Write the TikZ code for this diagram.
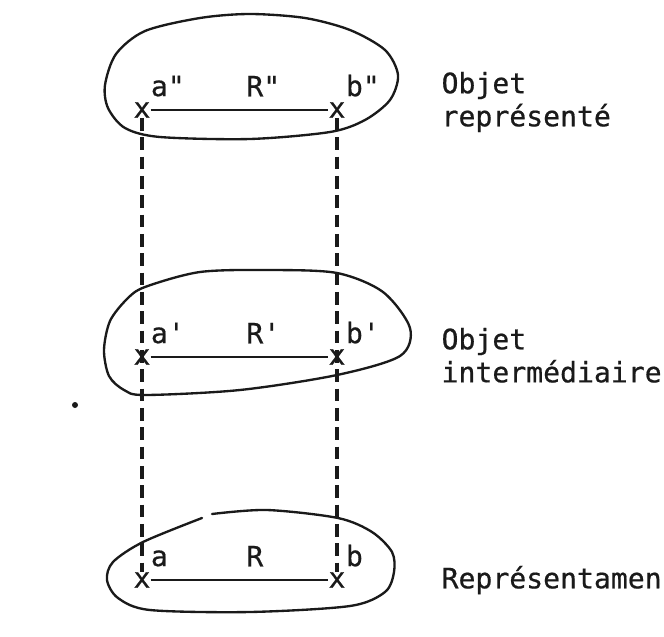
\documentclass[tikz,border=0pt]{standalone}
\usepackage{fontspec}
\newfontfamily\typefont[FakeBold=0.6,Ligatures=TeXOff]{DejaVu Sans Mono}
\usepackage{tikz}
\usetikzlibrary{positioning}
\usetikzlibrary{calc}
\definecolor{ink}{HTML}{1A1A1A}
\tikzset{basic/.style={text=ink,inner sep=0pt,font=\typefont\fontsize{24}{28.2}\selectfont}}
\tikzset{cross/.style={basic}}
\tikzset{lbl/.style={basic}}
\tikzset{txt/.style={basic,align=left}}

\begin{document}
\begin{tikzpicture}[
    x=0.03cm, y=-0.03cm,
    node distance=0.16cm and 0cm,
    >=latex
  ]

  % Global Style Definitions
  \tikzset{
    blob/.style={draw=ink, line width=2pt, line join=round, line cap=round},
    link/.style={draw=ink, line width=1.6pt},
    guide/.style={draw=ink, line width=2.6pt, dash pattern=on 0.38cm off 0.2cm}
  }
  \useasboundingbox (0,0) rectangle (664,637);

  % Outlines drawn by hand
  \draw[blob] plot[smooth cycle] coordinates {(105,85) (116,54) (145,31) (200,18) (250,14) (305,18) (350,30) (385,50) (398,75) (390,100) (365,120) (330,132) (250,139) (160,137) (125,128) (108,108)};
  \draw[blob] plot[smooth cycle] coordinates {(145,287) (200,272) (270,270) (337,273) (383,292) (410,328) (400,356) (337,375) (240,390) (145,395) (124,390) (109,376) (104,350) (110,321) (127,299)};
  \draw[blob] plot[smooth] coordinates {(212,514) (267,510) (338,518) (372,532) (392,552) (394,572) (385,592) (350,606) (250,612) (150,610) (118,598) (107,580) (113,562) (143,542) (202,518)};

  % Top: objet represente
  \node (a2) [cross] at (142,110) {x};
  \node (b2) [cross] at (337,110) {x};
  \coordinate (m2) at ($(a2)!0.5!(b2)$);
  \node (la2) [lbl, above right=of a2] {a"};
  \node (rr2) [lbl, above right=0.4cm and 0.2cm of m2] {R"};
  \node (lb2) [lbl, above right=of b2] {b"};
  \node (t2) [txt, right=2.87cm of b2, yshift=0.24cm] {Objet\\représenté};

  % Middle: objet intermediaire
  \node (a1) [cross] at (142,357) {x};
  \node (b1) [cross] at (337,357) {x};
  \coordinate (m1) at ($(a1)!0.5!(b1)$);
  \node (la1) [lbl, above right=of a1] {a'};
  \node (rr1) [lbl, above right=0.4cm and 0.2cm of m1] {R'};
  \node (lb1) [lbl, above right=of b1] {b'};
  \node (t1) [txt, right=2.87cm of b1, yshift=0.05cm] {Objet\\intermédiaire};

  % Bottom: representamen
  \node (a0) [cross] at (142,580) {x};
  \node (b0) [cross] at (337,580) {x};
  \coordinate (m0) at ($(a0)!0.5!(b0)$);
  \node (la0) [lbl, above right=of a0] {a};
  \node (rr0) [lbl, above right=0.4cm and 0.2cm of m0] {R};
  \node (lb0) [lbl, above right=of b0] {b};
  \node (t0) [txt, right=2.87cm of b0] {Représentamen};

  % Relations
  \draw[link] (a2) -- (b2);
  \draw[link] (a1) -- (b1);
  \draw[link] (a0) -- (b0);

  % Correspondence lines
  \draw[guide] (a2) -- (a0);
  \draw[guide] (b2) -- (b0);

  \fill[ink] (75,405) circle (0.09cm);

\end{tikzpicture}
\end{document}
